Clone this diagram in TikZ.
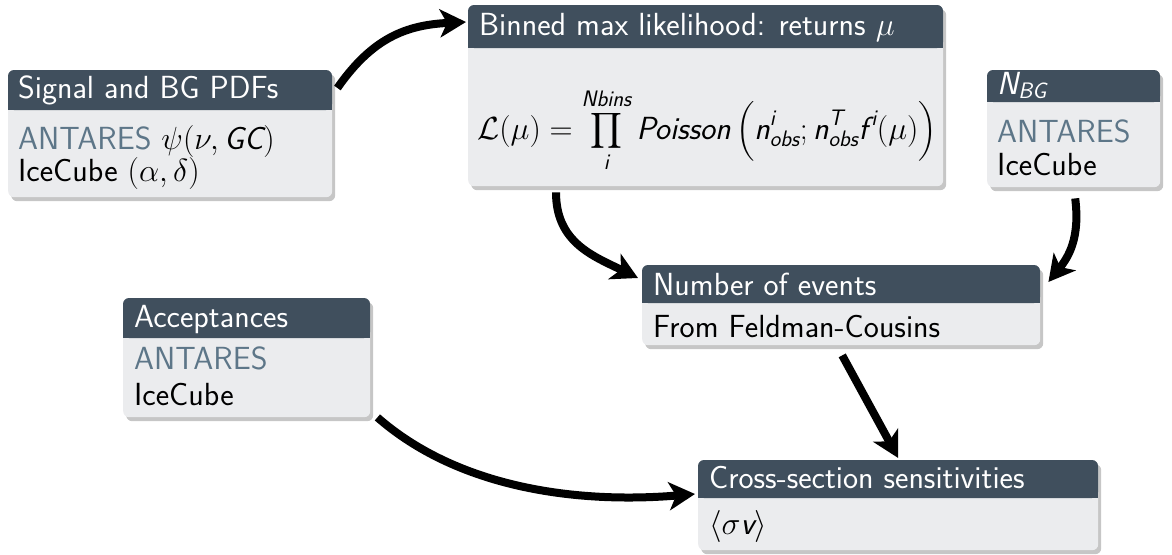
\RequirePackage{fix-cm}
\documentclass[tikz,border=0pt]{standalone}
\usepackage{amsmath}
\usetikzlibrary{arrows.meta,shadows,positioning}
\definecolor{barcol}{RGB}{64,79,93}
\definecolor{bodycol}{RGB}{235,236,238}
\definecolor{antcol}{RGB}{93,118,136}
\newcommand{\mi}[1]{\text{\itshape #1}}
\tikzset{
  block/.style={fill=bodycol, rounded corners=6pt, anchor=north west, inner sep=0pt,
    drop shadow={shadow xshift=3pt, shadow yshift=-4pt, opacity=0.45}},
  bar/.style={fill=barcol, rounded corners=6pt},
  ttl/.style={anchor=base west, text=white, inner sep=0pt, font=\sffamily\fontsize{32}{38}\selectfont},
  txt/.style={anchor=base west, inner sep=0pt, font=\sffamily\fontsize{32}{38}\selectfont},
  flow/.style={line width=8pt, -{Stealth[length=26pt,width=28pt,inset=7pt]}},
}
\begin{document}
\begin{tikzpicture}[x=1pt,y=-1pt]
  \useasboundingbox (0,0) rectangle (1172,554);

  % signal and background pdfs
  \node [block, minimum width=324pt, minimum height=127pt] (sig) at (8,70) {};
  \fill [bar] (8,70) rectangle (332,110);
  \fill [barcol] (8,102) rectangle (332,110);
  \node [ttl] (sigT) at (18,98) {Signal and BG PDFs};
  \node [txt, text=antcol] (sigA) at (18,149) {ANTARES \textcolor{black}{$\psi(\nu,\mi{GC})$}};
  \node [txt] (sigB) at (18,181) {IceCube $(\alpha,\delta)$};

  % likelihood
  \node [block, minimum width=475pt, minimum height=181pt] (lik) at (468,5) {};
  \fill [bar] (468,5) rectangle (943,48);
  \fill [barcol] (468,40) rectangle (943,48);
  \node [ttl] (likT) at (479,35) {Binned max likelihood: returns $\mu$};
  \node [txt, anchor=base] (likF) at (707,139) {$\displaystyle \mathcal{L}(\mu) = \prod_{\mi{i}}^{\mi{Nbins}} \mi{Poisson}\,\Bigl(\mi{n}^{\mi{i}}_{\mi{obs}}; \mi{n}^{\mi{T}}_{\mi{obs}}\mi{f}^{\,\mi{i}}(\mu)\Bigr)$};

  % background counts
  \node [block, minimum width=173pt, minimum height=117pt] (nbg) at (987,70) {};
  \fill [bar] (987,70) rectangle (1160,102);
  \fill [barcol] (987,94) rectangle (1160,102);
  \node [ttl] (nbgT) at (997,94) {$\mi{N}_{\mi{BG}}$};
  \node [txt, text=antcol] (nbgA) at (997,142) {ANTARES};
  \node [txt] (nbgB) at (997,175) {IceCube};

  % number of events
  \node [block, minimum width=398pt, minimum height=80pt] (num) at (642,265) {};
  \fill [bar] (642,265) rectangle (1040,303);
  \fill [barcol] (642,295) rectangle (1040,303);
  \node [ttl] (numT) at (653,295) {Number of events};
  \node [txt] (numB) at (653,337) {From Feldman-Cousins};

  % acceptances
  \node [block, minimum width=247pt, minimum height=119pt] (acc) at (123,298) {};
  \fill [bar] (123,298) rectangle (370,338);
  \fill [barcol] (123,330) rectangle (370,338);
  \node [ttl] (accT) at (134,327) {Acceptances};
  \node [txt, text=antcol] (accA) at (134,369) {ANTARES};
  \node [txt] (accB) at (134,405) {IceCube};

  % cross-section
  \node [block, minimum width=400pt, minimum height=90pt] (xs) at (698,460) {};
  \fill [bar] (698,460) rectangle (1098,498);
  \fill [barcol] (698,490) rectangle (1098,498);
  \node [ttl] (xsT) at (709,488) {Cross-section sensitivities};
  \node [txt] (xsB) at (709,534) {$\langle\sigma\mi{v}\rangle$};

  % arrows
  \draw [flow] ([shift={(5,18)}]sig.north east) .. controls +(35,-50) and +(-60,3) .. ([shift={(-2,17)}]lik.north west);
  \draw [flow] ([shift={(88,6)}]lik.south west) .. controls +(0,50) and +(-45,-22) .. ([shift={(-4,13)}]num.north west);
  \draw [flow] ([shift={(1.5,11)}]nbg.south) .. controls +(5,40) and +(20,-25) .. ([shift={(8,17)}]num.north east);
  \draw [flow] ([shift={(1,10)}]num.south) -- ([shift={(0,-2)}]xs.north);
  \draw [flow] ([shift={(7,0)}]acc.south east) .. controls +(80,70) and +(-120,10) .. ([shift={(-3,34)}]xs.north west);
\end{tikzpicture}
\end{document}
